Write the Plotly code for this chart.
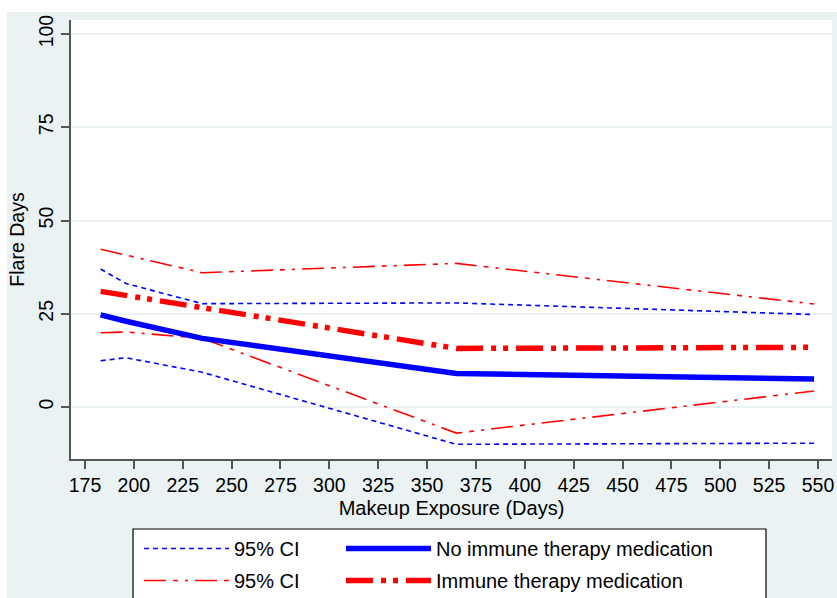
import plotly.graph_objects as go

# Data
exposure_days = [183, 196, 235, 365, 548]
no_immune = [24.7, 23.0, 18.4, 9.0, 7.5]
no_immune_lo = [12.4, 13.2, 9.3, -10.0, -9.7]
no_immune_hi = [37.0, 33.1, 27.7, 27.9, 24.8]
immune = [31.0, 29.9, 26.8, 15.7, 16.0]
immune_lo = [19.9, 20.1, 18.4, -7.0, 4.3]
immune_hi = [42.3, 40.7, 36.0, 38.5, 27.6]

x_ticks = [175, 200, 225, 250, 275, 300, 325, 350, 375, 400, 425, 450, 475, 500, 525, 550]
y_ticks = [0, 25, 50, 75, 100]

BLUE = "#0000ff"
RED = "#ff0000"
BG = "#eaf2f3"
FONT = "Liberation Sans, Arial, sans-serif"

W, H = 837, 598
ML, MR, MT, MB = 71, 5, 20, 139
PW, PH = W - ML - MR, H - MT - MB


def px_x(p):
    """page pixel x -> paper coordinate"""
    return (p - ML) / PW


def px_y(p):
    """page pixel y -> paper coordinate"""
    return (H - MB - p) / PH


fig = go.Figure()

ci_dot = "5px,4px"
ci_dashdot = "22px,7px,5px,7px,3px,7px"
thick_dashdotdot = "27px,8px,5px,7px,5px,8px"

fig.add_trace(go.Scatter(x=exposure_days, y=no_immune_lo, mode="lines", name="95% CI",
                         line=dict(color=BLUE, width=1.6, dash=ci_dot),
                         legend="legend", legendgroup="a", showlegend=True))
fig.add_trace(go.Scatter(x=exposure_days, y=no_immune_hi, mode="lines", name="95% CI",
                         line=dict(color=BLUE, width=1.6, dash=ci_dot),
                         legendgroup="a", showlegend=False))
fig.add_trace(go.Scatter(x=exposure_days, y=immune_lo, mode="lines", name="95% CI",
                         line=dict(color=RED, width=1.6, dash=ci_dashdot),
                         legend="legend", legendgroup="b", showlegend=True))
fig.add_trace(go.Scatter(x=exposure_days, y=immune_hi, mode="lines", name="95% CI",
                         line=dict(color=RED, width=1.6, dash=ci_dashdot),
                         legendgroup="b", showlegend=False))
fig.add_trace(go.Scatter(x=exposure_days, y=no_immune, mode="lines", name="No immune therapy medication",
                         line=dict(color=BLUE, width=5.5),
                         legend="legend2", legendgroup="c"))
fig.add_trace(go.Scatter(x=exposure_days, y=immune, mode="lines", name="Immune therapy medication",
                         line=dict(color=RED, width=5.5, dash=thick_dashdotdot),
                         legend="legend2", legendgroup="d"))

y0 = 0 - (459 - 407) / 3.73
y1 = 100 + (34 - 20) / 3.73
xs = 733 / 375.0
x0 = 175 - (85 - 71) / xs
x1 = 175 + (832 - 85) / xs

legend_common = dict(
    bgcolor="rgba(0,0,0,0)", borderwidth=0, orientation="v",
    font=dict(family=FONT, size=20, color="black"),
    xanchor="left", yanchor="top", tracegroupgap=3, itemwidth=85,
    traceorder="grouped",
)

fig.update_layout(
    width=W, height=H,
    margin=dict(l=ML, r=MR, t=MT, b=MB, autoexpand=False),
    paper_bgcolor=BG, plot_bgcolor="white",
    font=dict(family=FONT, size=20, color="black"),
    showlegend=True,
    legend=dict(x=px_x(139), y=px_y(529), **legend_common),
    legend2=dict(x=px_x(341), y=px_y(529), **legend_common),
    xaxis=dict(
        range=[x0, x1], tickmode="array", tickvals=x_ticks,
        ticks="outside", ticklen=8, tickwidth=1.5, tickcolor="#555555",
        showline=True, linecolor="#555555", linewidth=1.5, mirror=False,
        showgrid=False, zeroline=False,
        tickfont=dict(family=FONT, size=19.5, color="black"),
        title=dict(text="Makeup Exposure (Days)", font=dict(family=FONT, size=20), standoff=6),
        automargin=False,
    ),
    yaxis=dict(
        range=[y0, y1], tickmode="array", tickvals=y_ticks, tickangle=-90,
        ticks="outside", ticklen=8, tickwidth=1.5, tickcolor="#555555",
        showline=True, linecolor="#555555", linewidth=1.5, mirror=False,
        showgrid=True, gridcolor=BG, gridwidth=1.5, zeroline=False,
        tickfont=dict(family=FONT, size=19.5, color="black"),
        title=dict(text="Flare Days", font=dict(family=FONT, size=19.5), standoff=6),
        automargin=False,
    ),
    shapes=[
        # white outer border strips (left and top) around the graph region
        dict(type="rect", xref="paper", yref="paper", x0=px_x(-5), x1=px_x(7), y0=px_y(H + 5), y1=px_y(-5),
             fillcolor="white", line=dict(width=0), layer="below"),
        dict(type="rect", xref="paper", yref="paper", x0=px_x(-5), x1=px_x(W + 5), y0=px_y(12), y1=px_y(-5),
             fillcolor="white", line=dict(width=0), layer="below"),
        # legend box
        dict(type="rect", xref="paper", yref="paper", x0=px_x(133), x1=px_x(766), y0=px_y(H + 10), y1=px_y(529),
             fillcolor="white", line=dict(color="black", width=1.2), layer="below"),
    ],
)

fig.write_html("out.html", config={"displayModeBar": False},
               post_script="document.body.style.margin='0px';")
